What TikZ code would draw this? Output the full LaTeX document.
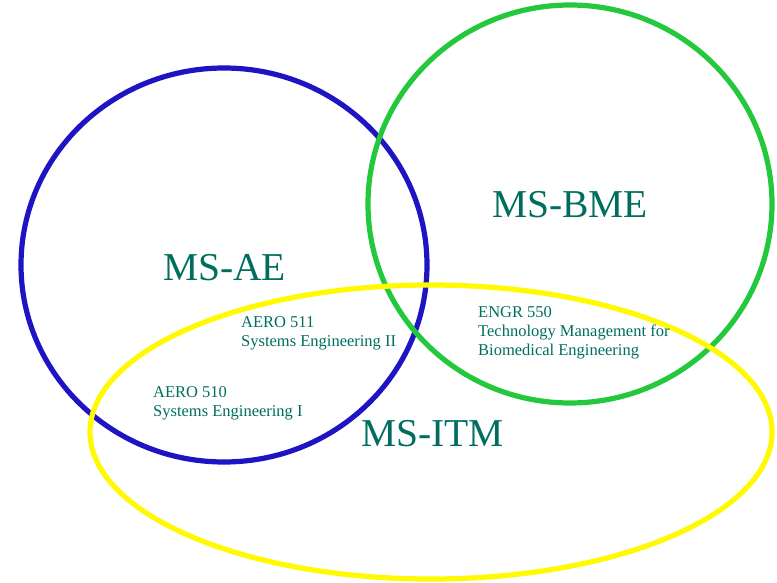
\documentclass[tikz,border=0pt]{standalone}
\usepackage{fontspec}
\setmainfont{Liberation Serif}
\definecolor{aeblue}{RGB}{30,20,195}
\definecolor{bmegreen}{RGB}{35,200,60}
\definecolor{itmyellow}{RGB}{255,250,0}
\definecolor{labelteal}{RGB}{0,110,95}
\begin{document}
\begin{tikzpicture}[x=1pt,y=-1pt,
  ring/.style={line width=5.2pt},
  program/.style={text=labelteal,font=\fontsize{39.5}{44}\selectfont,inner sep=0pt,anchor=base west},
  course/.style={text=labelteal,font=\fontsize{16.5}{19}\selectfont,inner sep=0pt,anchor=base west,align=left}]
\useasboundingbox (0,0) rectangle (777,583);
% program circles
\draw[ring,draw=aeblue] (224,265) ellipse [x radius=203,y radius=197];
\draw[ring,draw=bmegreen] (570,204) ellipse [x radius=202,y radius=199];
\draw[ring,draw=itmyellow] (431,432) ellipse [x radius=341,y radius=147];
% program names
\node[program] (ae) at (163,280) {MS-AE};
\node[program] (bme) at (492,218) {MS-BME};
\node[program] (itm) at (361,446) {MS-ITM};
% shared courses (anchored on the baseline of the last line)
\node[course] (aero511) at (241,346) {AERO 511\\Systems Engineering II};
\node[course] (aero510) at (153,416) {AERO 510\\Systems Engineering I};
\node[course] (engr550) at (478,355) {ENGR 550\\Technology Management for\\Biomedical Engineering};
\end{tikzpicture}
\end{document}
